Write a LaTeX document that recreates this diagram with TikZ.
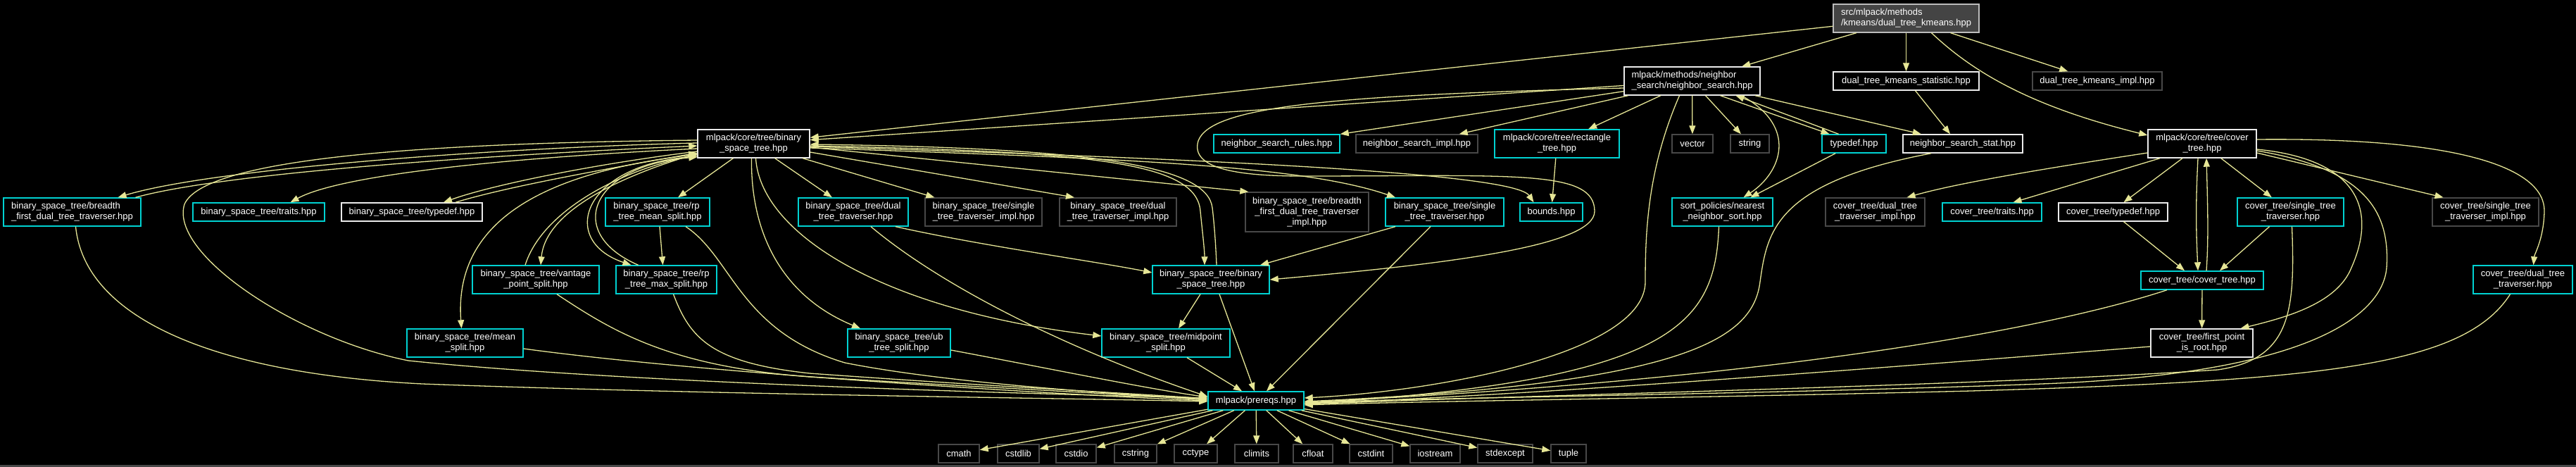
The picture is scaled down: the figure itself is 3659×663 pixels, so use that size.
\documentclass[tikz,border=0pt]{standalone}
\usepackage{fontspec}
\setmainfont{Liberation Sans}
\usetikzlibrary{arrows.meta}
\definecolor{edgec}{RGB}{230,230,150}
\definecolor{cyanb}{RGB}{0,210,210}
\definecolor{grayb}{RGB}{72,72,72}
\definecolor{whiteb}{RGB}{235,235,235}
\definecolor{rootfill}{RGB}{68,68,68}
\begin{document}
\begin{tikzpicture}[x=1pt,y=-1pt,
 nb/.style={draw, line width=1.4pt, fill=black, text=white, inner sep=0pt, font=\fontsize{13pt}{15pt}\selectfont, align=center},
 wb/.style={nb, draw=whiteb},
 cb/.style={nb, draw=cyanb},
 gb/.style={nb, draw=grayb},
 ed/.style={draw=edgec, line width=1.3pt, -{Triangle[length=12pt,width=9pt]}},
 h1/.style={minimum height=26pt}, h2/.style={minimum height=40pt}, h3/.style={minimum height=56pt}]
\useasboundingbox (0,0) rectangle (3659,663);
\fill[black] (0,0) rectangle (3659,663);
\fill[grayb] (0,660) rectangle (3659,663);

% ---- nodes ----
\node[wb,h2,minimum width=207pt,fill=rootfill,draw=whiteb!80!black,align=left] (root) at (2707.5,26) {src/mlpack/methods\\/kmeans/dual\_tree\_kmeans.hpp};
\node[wb,h2,minimum width=193pt,align=left] (ns) at (2403.5,115) {mlpack/methods/neighbor\\\_search/neighbor\_search.hpp};
\node[wb,h1,minimum width=207pt] (dtks) at (2707.5,115) {dual\_tree\_kmeans\_statistic.hpp};
\node[gb,h1,minimum width=184pt] (dtki) at (2979,115) {dual\_tree\_kmeans\_impl.hpp};

\node[wb,h2,minimum width=159pt] (B) at (1070.5,204) {mlpack/core/tree/binary\\\_space\_tree.hpp};
\node[cb,h1,minimum width=179pt] (nsr) at (1813.5,204) {neighbor\_search\_rules.hpp};
\node[gb,h1,minimum width=173pt] (nsi) at (2012.5,204) {neighbor\_search\_impl.hpp};
\node[cb,h2,minimum width=177pt] (rect) at (2211.5,204) {mlpack/core/tree/rectangle\\\_tree.hpp};
\node[gb,h1,minimum width=58pt] (vector) at (2404,204) {vector};
\node[gb,h1,minimum width=55pt] (string) at (2485.5,204) {string};
\node[cb,h1,minimum width=91pt] (tdef) at (2633.5,204) {typedef.hpp};
\node[wb,h1,minimum width=170pt] (nss) at (2788,204) {neighbor\_search\_stat.hpp};
\node[wb,h2,minimum width=154pt] (CT) at (3128,204) {mlpack/core/tree/cover\\\_tree.hpp};

\node[cb,h2,minimum width=195pt,align=left] (bfdt) at (102.5,301) {binary\_space\_tree/breadth\\\_first\_dual\_tree\_traverser.hpp};
\node[cb,h1,minimum width=187pt] (btraits) at (367.5,301) {binary\_space\_tree/traits.hpp};
\node[wb,h1,minimum width=200pt] (btdef) at (585,301) {binary\_space\_tree/typedef.hpp};
\node[cb,h2,minimum width=148pt,align=left] (rpmean) at (934,301) {binary\_space\_tree/rp\\\_tree\_mean\_split.hpp};
\node[cb,h2,minimum width=156pt] (bdual) at (1212,301) {binary\_space\_tree/dual\\\_tree\_traverser.hpp};
\node[gb,h2,minimum width=166pt] (bsimpl) at (1397,301) {binary\_space\_tree/single\\\_tree\_traverser\_impl.hpp};
\node[gb,h2,minimum width=166pt] (bdimpl) at (1588,301) {binary\_space\_tree/dual\\\_tree\_traverser\_impl.hpp};
\node[gb,h3,minimum width=175pt] (bfdtimpl) at (1856.5,301) {binary\_space\_tree/breadth\\\_first\_dual\_tree\_traverser\\\_impl.hpp};
\node[cb,h2,minimum width=168pt] (bsingle) at (2052,301) {binary\_space\_tree/single\\\_tree\_traverser.hpp};
\node[cb,h1,minimum width=89pt] (bounds) at (2203.5,301) {bounds.hpp};
\node[cb,h2,minimum width=143pt] (nns) at (2446.5,301) {sort\_policies/nearest\\\_neighbor\_sort.hpp};
\node[gb,h2,minimum width=141pt] (cdimpl) at (2663.5,301) {cover\_tree/dual\_tree\\\_traverser\_impl.hpp};
\node[cb,h1,minimum width=141pt] (ctraits) at (2829.5,301) {cover\_tree/traits.hpp};
\node[wb,h1,minimum width=155pt] (ctdef) at (3001.5,301) {cover\_tree/typedef.hpp};
\node[cb,h2,minimum width=151pt] (csingle) at (3253.5,301) {cover\_tree/single\_tree\\\_traverser.hpp};
\node[gb,h2,minimum width=151pt] (csimpl) at (3530.5,301) {cover\_tree/single\_tree\\\_traverser\_impl.hpp};

\node[cb,h2,minimum width=180pt] (vantage) at (761,397) {binary\_space\_tree/vantage\\\_point\_split.hpp};
\node[cb,h2,minimum width=143pt] (rpmax) at (946.5,397) {binary\_space\_tree/rp\\\_tree\_max\_split.hpp};
\node[cb,h2,minimum width=166pt] (bbst) at (1720,397) {binary\_space\_tree/binary\\\_space\_tree.hpp};
\node[cb,h1,minimum width=174pt] (CCT) at (3128,398) {cover\_tree/cover\_tree.hpp};
\node[cb,h2,minimum width=141pt] (cdual) at (3583.5,397) {cover\_tree/dual\_tree\\\_traverser.hpp};

\node[cb,h2,minimum width=165pt] (mean) at (660.5,487) {binary\_space\_tree/mean\\\_split.hpp};
\node[cb,h2,minimum width=146pt] (ub) at (1277,487) {binary\_space\_tree/ub\\\_tree\_split.hpp};
\node[cb,h2,minimum width=182pt] (mid) at (1656,487) {binary\_space\_tree/midpoint\\\_split.hpp};
\node[wb,h2,minimum width=145pt] (fpr) at (3127.5,487) {cover\_tree/first\_point\\\_is\_root.hpp};

\node[cb,h1,minimum width=136pt] (P) at (1784,569) {mlpack/prereqs.hpp};

\node[gb,h1,minimum width=58pt] (cmath) at (1362,644) {cmath};
\node[gb,h1,minimum width=59pt] (cstdlib) at (1446.5,644) {cstdlib};
\node[gb,h1,minimum width=57pt] (cstdio) at (1528.5,644) {cstdio};
\node[gb,h1,minimum width=60pt] (cstring) at (1613,644) {cstring};
\node[gb,h1,minimum width=61pt] (cctype) at (1698.5,644) {cctype};
\node[gb,h1,minimum width=62pt] (climits) at (1785,644) {climits};
\node[gb,h1,minimum width=56pt] (cfloat) at (1865,644) {cfloat};
\node[gb,h1,minimum width=61pt] (cstdint) at (1947.5,644) {cstdint};
\node[gb,h1,minimum width=71pt] (iostream) at (2038.5,644) {iostream};
\node[gb,h1,minimum width=78pt] (stdexcept) at (2138,644) {stdexcept};
\node[gb,h1,minimum width=50pt] (tuple) at (2228,644) {tuple};

% ---- edges: root ----
\draw[ed] (root) -- (B);
\draw[ed] (root) -- (ns);
\draw[ed] (root) -- (dtks);
\draw[ed] (root) -- (dtki);
\draw[ed] ([xshift=36pt]root.south) .. controls (2800,100) and (2880,150) .. ([yshift=12pt]CT.west);

% ---- edges: neighbor_search ----
\draw[ed] (ns) -- (B);
\draw[ed] (ns) -- (nsr);
\draw[ed] (ns) -- (nsi);
\draw[ed] (ns) -- (rect);
\draw[ed] (ns) -- (vector);
\draw[ed] (ns) -- (string);
\draw[ed] ([xshift=40pt]ns.south) -- ([xshift=-35pt]tdef.north);
\draw[ed] ([xshift=-22pt]tdef.north) -- ([xshift=62pt]ns.south);
\draw[ed] (ns) -- (nss);
\draw[ed] ([xshift=70pt]ns.south) .. controls (2555,180) and (2530,245) .. ([xshift=30pt]nns.north);
\draw[ed] (tdef) -- (nns);
\draw[ed] ([xshift=-18pt]ns.south) .. controls (2340,240) and (2337,330) .. (2337,400) .. controls (2337,500) and (2050,555) .. ([yshift=4pt]P.east);
\draw[ed] ([yshift=-10pt]ns.west) .. controls (1900,135) and (1720,150) .. (1702,200) .. controls (1690,240) and (1760,250) .. (1850,250) .. controls (2150,250) and (2265,240) .. (2265,300) .. controls (2265,350) and (2050,375) .. (bbst.east);
\draw[ed] ([xshift=13pt]dtks.south) -- ([xshift=-18pt]nss.north);

% ---- edges: binary_space_tree.hpp ----
\draw[ed] ([yshift=1pt]B.west) .. controls (700,210) and (300,240) .. ([xshift=65pt]bfdt.north);
\draw[ed] ([xshift=90pt]bfdt.north) .. controls (320,245) and (700,220) .. ([yshift=-3pt]B.west);
\draw[ed] ([yshift=-7pt]B.west) .. controls (700,225) and (480,250) .. ([xshift=45pt]btraits.north);
\draw[ed] ([yshift=-11pt]B.west) .. controls (850,232) and (700,262) .. ([xshift=45pt]btdef.north);
\draw[ed] ([xshift=62pt]btdef.north) .. controls (720,265) and (860,240) .. ([yshift=-13pt]B.west);
\draw[ed] ([yshift=5pt]B.west) .. controls (600,203) and (290,225) .. (262,290) .. controls (240,360) and (420,480) .. (580,512) .. controls (900,545) and (1500,560) .. ([yshift=4pt]P.west);
\draw[ed] (B) -- (rpmean);
\draw[ed] ([yshift=-14pt]B.west) .. controls (880,250) and (775,300) .. ([xshift=7pt]vantage.north);
\draw[ed] ([xshift=-15pt]vantage.north) .. controls (770,300) and (880,242) .. ([yshift=-16pt]B.west);
\draw[ed] ([yshift=-15pt]B.west) .. controls (760,245) and (645,320) .. ([xshift=-5pt]mean.north);
\draw[ed] ([yshift=-18pt]B.west) .. controls (830,230) and (790,340) .. ([xshift=-50pt]rpmax.north);
\draw[ed] ([xshift=-40pt]rpmax.north) .. controls (800,330) and (840,235) .. ([yshift=-19pt]B.west);
\draw[ed] (B) -- (bdual);
\draw[ed] (B) -- (bsimpl);
\draw[ed] ([yshift=-12pt]B.east) -- ([xshift=-62pt]bdimpl.north);
\draw[ed] ([yshift=-5pt]B.east) -- ([xshift=5pt]bfdtimpl.north west);
\draw[ed] ([yshift=-4pt]B.east) .. controls (1700,225) and (2150,245) .. ([xshift=-25pt]bounds.north);
\draw[ed] ([yshift=-6pt]B.east) .. controls (1600,225) and (1850,235) .. ([xshift=-70pt]bsingle.north);
\draw[ed] ([yshift=-3pt]B.east) .. controls (1550,215) and (1700,230) .. (1705,300) .. controls (1708,330) and (1711,355) .. ([xshift=-9pt]bbst.north);
\draw[ed] ([xshift=8pt]bbst.north) .. controls (1727,350) and (1725,320) .. (1722,295) .. controls (1715,235) and (1550,210) .. ([yshift=-1pt]B.east);
\draw[ed] ([xshift=-3pt]B.south) .. controls (1066,330) and (1110,420) .. ([xshift=-55pt]ub.north);
\draw[ed] ([xshift=3pt]B.south) .. controls (1080,330) and (1250,440) .. ([yshift=10pt]mid.west);

% ---- edges: split / traverser files ----
\draw[ed] ([xshift=3pt]rpmean.south) -- ([xshift=-5pt]rpmax.north);
\draw[ed] ([xshift=40pt]rpmean.south) .. controls (1040,365) and (1050,470) .. (1200,515) .. controls (1350,545) and (1600,560) .. ([yshift=2pt]P.west);
\draw[ed] ([xshift=30pt]vantage.south) .. controls (870,470) and (950,520) .. (1150,535) .. controls (1400,550) and (1600,560) .. ([yshift=1pt]P.west);
\draw[ed] ([xshift=10pt]rpmax.south) .. controls (980,480) and (1010,515) .. (1150,530) .. controls (1400,548) and (1600,558) .. ([yshift=3pt]P.west);
\draw[ed] ([yshift=-8pt]mean.east) .. controls (1000,530) and (1500,560) .. (P.west);
\draw[ed] ([xshift=5pt]bfdt.south) .. controls (120,450) and (300,530) .. (600,545) .. controls (1000,560) and (1500,565) .. ([yshift=-1pt]P.west);
\draw[ed] ([yshift=-10pt]ub.east) .. controls (1500,525) and (1620,550) .. ([yshift=5pt]P.west);
\draw[ed] ([xshift=30pt]mid.south) -- ([xshift=-20pt]P.north);
\draw[ed] ([xshift=12pt]bbst.south) -- ([xshift=-2pt]P.north);
\draw[ed] ([xshift=-15pt]bbst.south) -- ([xshift=18pt]mid.north);
\draw[ed] ([xshift=-70pt]bsingle.south) -- ([xshift=70pt]bbst.north);
\draw[ed] ([xshift=-20pt]bsingle.south) -- ([xshift=15pt]P.north);
\draw[ed] ([xshift=25pt]bdual.south) .. controls (1330,400) and (1500,490) .. ([yshift=6pt]P.west);
\draw[ed] ([xshift=60pt]bdual.south) .. controls (1400,350) and (1550,370) .. ([yshift=10pt]bbst.west);
\draw[ed] (rect) -- (bounds);
\draw[ed] ([xshift=-5pt]nns.south) .. controls (2436,460) and (2380,540) .. ([yshift=-4pt]P.east);
\draw[ed] ([xshift=-45pt]nss.south) .. controls (2520,260) and (2510,330) .. (2500,400) .. controls (2490,480) and (2400,545) .. ([yshift=-1pt]P.east);

% ---- edges: cover tree ----
\draw[ed] ([yshift=-13pt]CT.west) .. controls (2900,240) and (2780,260) .. ([xshift=45pt]cdimpl.north);
\draw[ed] ([xshift=-60pt]CT.south) -- ([xshift=30pt]ctraits.north);
\draw[ed] ([xshift=-28pt]CT.south) -- ([xshift=15pt]ctdef.north);
\draw[ed] ([xshift=-6pt]CT.south) .. controls (3118,300) and (3120,340) .. ([xshift=-6pt]CCT.north);
\draw[ed] ([xshift=6pt]CCT.north) .. controls (3137,340) and (3136,300) .. ([xshift=6pt]CT.south);
\draw[ed] (CT) -- (csingle);
\draw[ed] ([yshift=-13pt]CT.east) -- ([xshift=-60pt]csimpl.north);
\draw[ed] ([yshift=6pt]CT.east) .. controls (3500,195) and (3615,240) .. (3614,300) .. controls (3613,340) and (3600,360) .. ([xshift=15pt]cdual.north);
\draw[ed] ([yshift=-8pt]CT.east) .. controls (3340,225) and (3380,290) .. (3340,380) .. controls (3320,430) and (3250,450) .. ([xshift=55pt]fpr.north);
\draw[ed] ([yshift=-10pt]CT.east) .. controls (3360,240) and (3395,300) .. (3390,380) .. controls (3385,440) and (3300,530) .. (2900,545) .. controls (2500,560) and (2000,565) .. ([yshift=-3pt]P.east);
\draw[ed] ([xshift=2pt]csingle.south) .. controls (3260,440) and (3255,510) .. (3150,525) .. controls (2800,548) and (2200,560) .. ([yshift=-5pt]P.east);
\draw[ed] ([xshift=-30pt]csingle.south) -- ([xshift=25pt]CCT.north);
\draw[ed] ([xshift=15pt]ctdef.south) -- ([xshift=-25pt]CCT.north);
\draw[ed] (CCT) -- (fpr);
\draw[ed] ([xshift=-50pt]CCT.south) .. controls (2900,470) and (2500,540) .. ([yshift=-2pt]P.east);
\draw[ed] ([yshift=-5pt]fpr.west) .. controls (2700,520) and (2200,560) .. ([yshift=-4pt]P.east);
\draw[ed] ([xshift=-18pt]cdual.south) .. controls (3500,520) and (3300,540) .. (2800,555) .. controls (2400,565) and (2000,570) .. ([yshift=-6pt]P.east);

% ---- edges: prereqs ----
\foreach \s in {cmath,cstdlib,cstdio,cstring,cctype,climits,cfloat,cstdint,iostream,stdexcept,tuple}
  \draw[ed] (P) -- (\s);
\end{tikzpicture}
\end{document}
